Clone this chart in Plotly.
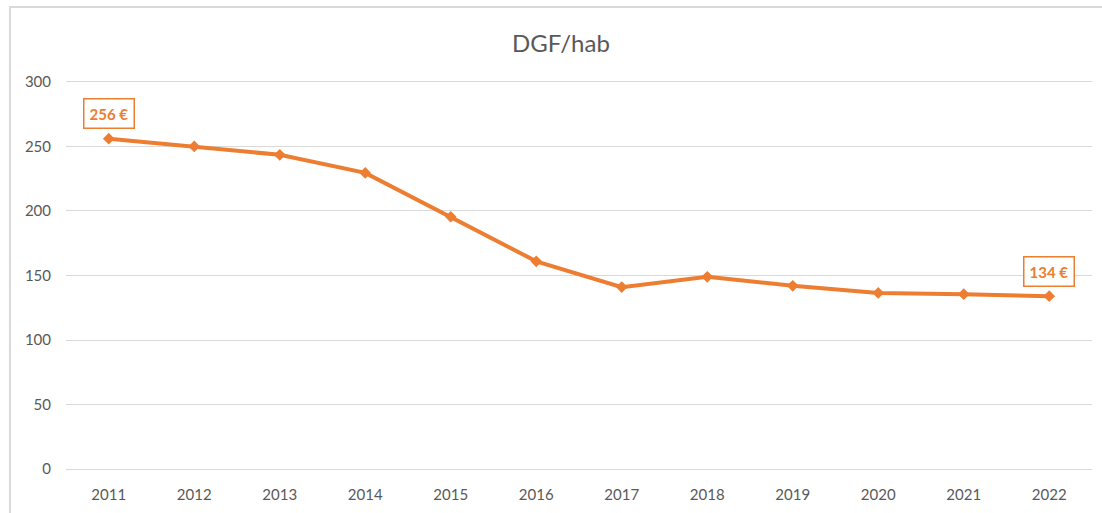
import plotly.graph_objects as go

years = ["2011", "2012", "2013", "2014", "2015", "2016", "2017", "2018", "2019", "2020", "2021", "2022"]
dgf_hab = [256, 250, 243.5, 229.5, 195.5, 161, 141, 149, 142, 136.5, 135.5, 134]
y_ticks = [0, 50, 100, 150, 200, 250, 300]
label_first = "256 €"
label_last = "134 €"

ORANGE = "#ED7D31"
GRAY_TXT = "#595959"
FONT = "Lato, 'Open Sans', sans-serif"

fig = go.Figure()
fig.add_trace(go.Scatter(
    x=years, y=dgf_hab, mode="lines+markers",
    line=dict(color=ORANGE, width=4),
    marker=dict(symbol="diamond", size=9, color=ORANGE),
    hoverinfo="x+y", showlegend=False,
))

n = len(years)
for idx, txt in [(0, label_first), (n - 1, label_last)]:
    fig.add_annotation(
        x=(idx + 0.5) / n, y=dgf_hab[idx], xref="paper", yref="y",
        xanchor="center", yanchor="middle",
        text=f"<b>{txt}</b>", showarrow=False,
        yshift=25, font=dict(family=FONT, size=15, color=ORANGE),
        bordercolor=ORANGE, borderwidth=1.5, borderpad=5, bgcolor="white",
    )

# outer chart border
fig.add_shape(type="rect", xref="paper", yref="paper",
              x0=-0.0546, x1=1.02, y0=-0.3, y1=1.18,
              line=dict(color="#D9D9D9", width=2), layer="below")

fig.update_layout(
    width=1102, height=513,
    margin=dict(l=66, r=10, t=78, b=40, autoexpand=False),
    paper_bgcolor="white", plot_bgcolor="white",
    title=dict(text="DGF/hab", x=0.509, xanchor="center", y=0.915, yanchor="middle",
               font=dict(family=FONT, size=24, color=GRAY_TXT)),
    font=dict(family=FONT, size=15, color=GRAY_TXT),
    xaxis=dict(type="category", categoryorder="array", categoryarray=years,
               range=[-0.5, n - 0.5], automargin=False,
               showgrid=False, showline=False, zeroline=False,
               ticks="outside", ticklen=8, tickcolor="rgba(0,0,0,0)",
               tickfont=dict(size=15, color=GRAY_TXT)),
    yaxis=dict(range=[-3, 303], tickvals=y_ticks, automargin=False,
               showgrid=True, gridcolor="#D9D9D9",
               gridwidth=1, zeroline=False, showline=False,
               ticks="outside", ticklen=11, tickcolor="rgba(0,0,0,0)",
               tickfont=dict(size=15, color=GRAY_TXT)),
)

fig.write_html("out.html", config={"displayModeBar": False},
               post_script="document.body.style.margin='0';")
